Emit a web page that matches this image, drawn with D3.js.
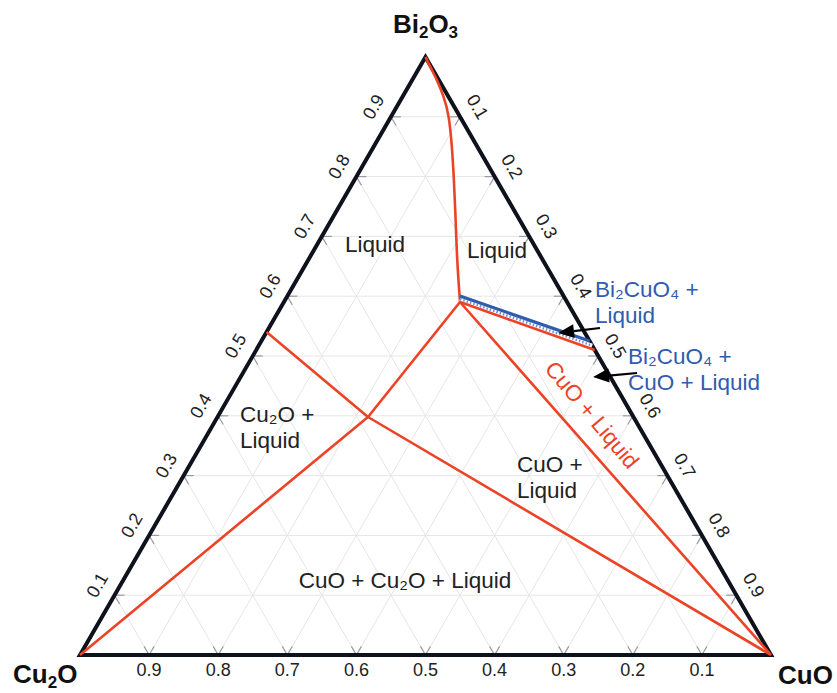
<!DOCTYPE html>
<html><head><meta charset="utf-8">
<script src="https://cdn.jsdelivr.net/npm/d3@7"></script>
<style>
body{margin:0;background:#fff;}
svg{display:block;font-family:"Liberation Sans",Arial,Helvetica,sans-serif;}
</style>
</head><body>
<svg id="chart" width="837" height="693"></svg>
<script>
// ---------- data (ternary coordinates: [Bi2O3 fraction, CuO fraction]) ----------
const tickValues = [0.1,0.2,0.3,0.4,0.5,0.6,0.7,0.8,0.9];
const tickLabels = ["0.1","0.2","0.3","0.4","0.5","0.6","0.7","0.8","0.9"];
const vertexNames = [["Cu","2","O",""],["CuO","","",""],["Bi","2","O","3"]]; // Cu2O, CuO, Bi2O3

const liquidusCurve = [[1,0],[0.9816,0.017],[0.9615,0.036],[0.9331,0.0602],[0.9030,0.0825],[0.8495,0.1137],[0.7943,0.1440],[0.7391,0.1738],[0.6605,0.2153],[0.5903,0.2548]];
const pointJ = [0.5903,0.2548];
const pointK = [0.398,0.2178];
const pointL = [0.54,0];
const cu2oBoundary = [[0,0], pointK, pointJ];
const cu2oCuoBoundary = [pointL, pointK, [0,1]];
const cuoBoundary = [pointJ, [0,1]];
const bandLower = [pointJ, [0.51,0.49]];
const bandUpper = [[0.6003,0.2498],[0.525,0.475]];

const regionLabels = [
  {lines:["Liquid"], at:[0.6739,0.0899], anchor:"middle", color:"#222"},
  {lines:["Liquid"], at:[0.6639,0.2715], anchor:"middle", color:"#222"},
  {lines:["Cu₂O +","Liquid"], at:[0.3896,0.0367], anchor:"start", color:"#222"},
  {lines:["CuO +","Liquid"], at:[0.3060,0.4794], anchor:"start", color:"#222"},
  {lines:["CuO + Cu₂O + Liquid"], at:[0.1120,0.4143], anchor:"middle", color:"#222"},
  {lines:["Bi₂CuO₄ +","Liquid"], at:[0.5987,0.4460], anchor:"start", color:"#2f5cae"},
  {lines:["Bi₂CuO₄ +","CuO + Liquid"], at:[0.4866,0.5498], anchor:"start", color:"#2f5cae"}
];
const rotatedLabel = {text:"CuO + Liquid", at:[0.4013,0.5403], angle:50, color:"#ec4326"};
const arrowTails = [[0.5468,0.4791],[0.4716,0.5703]];
const arrowTips  = [[0.5385,0.4226],[0.4649,0.5100]];

// ---------- scales ----------
const X = d3.scaleLinear().domain([0,1]).range([80,771]);
const Y = d3.scaleLinear().domain([0,1]).range([655,57]);
const px = d => [X(d[1] + d[0]/2), Y(d[0])];
const line = d3.line().x(d=>px(d)[0]).y(d=>px(d)[1]);

const svg = d3.select("#chart");
const RED = "#ec4326", BLUE = "#2f5cae", EDGE = "#0e121c";

// ---------- grid ----------
const gridLines = [];
tickValues.forEach(t => {
  gridLines.push([[t,0],[t,1-t]]);           // const Bi2O3
  gridLines.push([[0,t],[1-t,t]]);           // const CuO
  gridLines.push([[0,1-t],[1-t,0]]);         // const Cu2O
});
svg.append("g").selectAll("path").data(gridLines).join("path")
  .attr("d", line).attr("fill","none").attr("stroke","#e6e6e6").attr("stroke-width",1);

// tick stubs
const stubs = [];
gridLines.forEach(g => {
  const P = px(g[0]), Q = px(g[1]);
  const dx = Q[0]-P[0], dy = Q[1]-P[1], L = Math.hypot(dx,dy);
  const ux = dx/L, uy = dy/L;
  stubs.push([P,[P[0]+10*ux,P[1]+10*uy]]);
  stubs.push([Q,[Q[0]-10*ux,Q[1]-10*uy]]);
});
svg.append("g").selectAll("line").data(stubs).join("line")
  .attr("x1",d=>d[0][0]).attr("y1",d=>d[0][1]).attr("x2",d=>d[1][0]).attr("y2",d=>d[1][1])
  .attr("stroke","#9a9aa6").attr("stroke-width",1.2);

// ---------- triangle frame ----------
svg.append("path").datum([[0,0],[0,1],[1,0],[0,0]])
  .attr("d", d => line(d) + "Z").attr("fill","none").attr("stroke",EDGE)
  .attr("stroke-width",4).attr("stroke-linejoin","miter");

// ---------- phase boundaries ----------
const bnd = svg.append("g").attr("fill","none").attr("stroke",RED).attr("stroke-width",2.6).attr("stroke-linejoin","round");
bnd.append("path").datum(liquidusCurve).attr("d", d3.line().x(d=>px(d)[0]).y(d=>px(d)[1]).curve(d3.curveBasis));
bnd.append("path").datum(cu2oBoundary).attr("d", line);
bnd.append("path").datum(cu2oCuoBoundary).attr("d", line);
bnd.append("path").datum(cuoBoundary).attr("d", line);

// Bi2CuO4 band
const bandMid = [0,1].map(i => [(bandLower[i][0]+bandUpper[i][0])/2,(bandLower[i][1]+bandUpper[i][1])/2]);
svg.append("path").datum(bandMid).attr("d",line).attr("stroke","#ffffff").attr("stroke-width",4).attr("fill","none");
svg.append("path").datum(bandMid).attr("d",line).attr("stroke","#6d8fcf").attr("stroke-width",2.5).attr("stroke-dasharray","1.5,2").attr("fill","none");
svg.append("path").datum(bandUpper).attr("d",line).attr("stroke",BLUE).attr("stroke-width",3.2).attr("fill","none");
svg.append("path").datum(bandLower).attr("d",line).attr("stroke",RED).attr("stroke-width",2.6).attr("fill","none");

// ---------- tick labels ----------
const tl = svg.append("g").attr("font-size",18).attr("fill","#222").attr("text-anchor","middle").attr("dominant-baseline","central");
tickValues.forEach((t,i) => {
  let p = px([t,0]);
  let x = p[0]-17.3, y = p[1]-10;
  tl.append("text").attr("transform",`translate(${x},${y}) rotate(-60)`).text(tickLabels[i]);
  p = px([1-t,t]);
  x = p[0]+17.3; y = p[1]-10;
  tl.append("text").attr("transform",`translate(${x},${y}) rotate(60)`).text(tickLabels[i]);
  p = px([0,1-t]);
  tl.append("text").attr("x",p[0]).attr("y",p[1]+15).text(tickLabels[i]);
});

// ---------- vertex labels ----------
function vertexLabel(parts, x, y, anchor){
  const t = svg.append("text").attr("x",x).attr("y",y).attr("text-anchor",anchor)
    .attr("font-size",26).attr("font-weight","bold").attr("fill","#111");
  t.append("tspan").text(parts[0]);
  if(parts[1]) t.append("tspan").attr("font-size",17).attr("dy",5).text(parts[1]);
  if(parts[2]) t.append("tspan").attr("dy",parts[1]?-5:0).text(parts[2]);
  if(parts[3]) t.append("tspan").attr("font-size",17).attr("dy",5).text(parts[3]);
}
const apex = px([1,0]), left = px([0,0]), right = px([0,1]);
vertexLabel(vertexNames[2], apex[0], apex[1]-24, "middle");
vertexLabel(vertexNames[0], left[0]-67, left[1]+28, "start");
vertexLabel(vertexNames[1], right[0]+7, right[1]+29, "start");

// ---------- region labels ----------
regionLabels.forEach(r => {
  const p = px(r.at);
  const t = svg.append("text").attr("x",p[0]).attr("y",p[1]).attr("text-anchor",r.anchor)
    .attr("font-size",22.5).attr("fill",r.color);
  r.lines.forEach((s,i) => t.append("tspan").attr("x",p[0]).attr("dy", i===0?0:26).text(s));
});
{
  const p = px(rotatedLabel.at);
  svg.append("text").attr("transform",`translate(${p[0]},${p[1]}) rotate(${rotatedLabel.angle})`)
    .attr("text-anchor","middle").attr("dominant-baseline","central")
    .attr("font-size",22.5).attr("fill",rotatedLabel.color).text(rotatedLabel.text);
}

// ---------- arrows ----------
arrowTails.forEach((s,i) => {
  const S = px(s), T = px(arrowTips[i]);
  const dx = T[0]-S[0], dy = T[1]-S[1], L = Math.hypot(dx,dy);
  const ux = dx/L, uy = dy/L, nx = -uy, ny = ux;
  const B = [T[0]-16*ux, T[1]-16*uy];
  svg.append("line").attr("x1",S[0]).attr("y1",S[1]).attr("x2",B[0]).attr("y2",B[1])
    .attr("stroke","#000").attr("stroke-width",2.2);
  svg.append("path").attr("d",`M${T[0]},${T[1]}L${B[0]+7*nx},${B[1]+7*ny}L${B[0]-7*nx},${B[1]-7*ny}Z`)
    .attr("fill","#000");
});
</script>
</body></html>
